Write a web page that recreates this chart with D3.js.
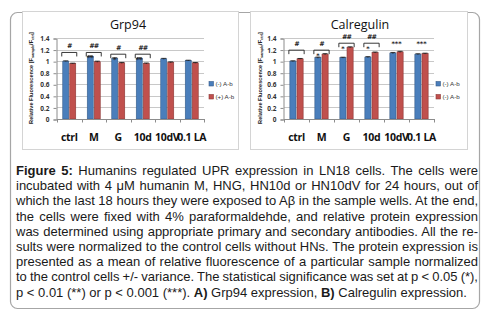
<!DOCTYPE html>
<html>
<head>
<meta charset="utf-8">
<script src="https://cdn.jsdelivr.net/npm/d3@7"></script>
<style>
  body { margin: 0; background: #fff; }
  svg { display: block; }
</style>
</head>
<body>
<script>
// values
const categories = ["ctrl", "M", "G", "10d", "10dV", "0.1 LA"];
const yTicks = [0, 0.2, 0.4, 0.6, 0.8, 1, 1.2, 1.4];
const seriesNames = ["minus", "plus"];

const grpMinus = [1.00, 1.08, 1.05, 1.05, 1.04, 1.01];
const grpPlus  = [0.96, 0.99, 0.97, 0.96, 0.98, 0.97];
const grpErr   = [0.005, 0.01, 0.008, 0.008, 0.008, 0.006];
const grpHash  = ["#", "##", "#", "##", "", ""];
const grpStars = ["", "**", "*", "**", "", ""];
const grpLegend = ["(-) A-b", "(+) A-b"];

const calMinus = [1.00, 1.06, 1.06, 1.07, 1.14, 1.12];
const calPlus  = [1.04, 1.12, 1.24, 1.15, 1.16, 1.13];
const calErr   = [0.006, 0.01, 0.008, 0.008, 0.01, 0.008];
const calHash  = ["#", "#", "##", "##", "", ""];
const calStars = ["", "*", "*", "*", "***", "***"];
const calLegend = ["(-) A-b", "(-) A-b"];

const caption = [
  [["Figure 5:", true], [" Humanins regulated UPR expression in LN18 cells. The cells were", false]],
  [["incubated with 4 μM humanin M, HNG, HN10d or HN10dV for 24 hours, out of", false]],
  [["which the last 18 hours they were exposed to Aβ in the sample wells. At the end,", false]],
  [["the cells were fixed with 4% paraformaldehde, and relative protein expression", false]],
  [["was determined using appropriate primary and secondary antibodies. All the re-", false]],
  [["sults were normalized to the control cells without HNs. The protein expression is", false]],
  [["presented as a mean of relative fluorescence of a particular sample normalized", false]],
  [["to the control cells +/- variance. The statistical significance was set at p < 0.05 (*),", false]],
  [["p < 0.01 (**) or p < 0.001 (***). ", false], ["A)", true], [" Grp94 expression, ", false], ["B)", true], [" Calregulin expression.", false]]
];

const width = 492;
const height = 320;
const blue = "#4a7ebb", blueEdge = "#385d8a";
const red = "#c0504d", redEdge = "#8c3836";

const svg = d3.select("body").append("svg")
  .attr("width", width)
  .attr("height", height);

// outer box and chart panels
svg.append("rect")
  .attr("x", 10.5).attr("y", 12.5).attr("width", 469).attr("height", 296).attr("rx", 7)
  .attr("fill", "#fff").attr("stroke", "#a6a6a6").attr("stroke-width", 1.2);

svg.append("rect")
  .attr("x", 22.5).attr("y", 11.5).attr("width", 216).attr("height", 138)
  .attr("fill", "#fff").attr("stroke", "#d4d4d4");
svg.append("rect")
  .attr("x", 250.5).attr("y", 11.5).attr("width", 217).attr("height", 138)
  .attr("fill", "#fff").attr("stroke", "#d4d4d4");

function drawChart(opt) {
  const g = svg.append("g");
  const minus = opt.minus, plus = opt.plus;

  const x = d3.scaleBand()
    .domain(categories)
    .range([opt.left, opt.right]);

  const xs = d3.scaleBand()
    .domain(seriesNames)
    .range([0, x.bandwidth()])
    .paddingOuter(0.75);

  const y = d3.scaleLinear()
    .domain([0, 1.4])
    .range([119, 38]);

  // grid
  g.selectAll(".grid")
    .data(yTicks.filter(d => d > 0))
    .enter().append("line")
    .attr("x1", opt.left).attr("x2", opt.right)
    .attr("y1", d => Math.round(y(d)) + 0.5).attr("y2", d => Math.round(y(d)) + 0.5)
    .attr("stroke", "#c8c8c8").attr("stroke-width", 1);

  // y axis
  const ya = g.append("g")
    .attr("transform", `translate(${opt.left - 0.5},0.5)`)
    .call(d3.axisLeft(y).tickValues(yTicks).tickFormat(d3.format("~g")).tickSize(3).tickPadding(4));
  ya.select(".domain").attr("stroke", "#8c8c8c");
  ya.selectAll(".tick line").attr("stroke", "#8c8c8c");
  ya.selectAll("text")
    .attr("font-family", "Open Sans, sans-serif").attr("font-size", 6.5).attr("font-weight", "bold").attr("fill", "#333");

  // bars
  const rows = categories.map((c, i) => ({ cat: c, i: i, vals: [minus[i], plus[i]] }));
  const grp = g.selectAll(".pair")
    .data(rows)
    .enter().append("g")
    .attr("transform", d => `translate(${x(d.cat)},0)`);

  grp.selectAll("rect")
    .data(d => seriesNames.map((s, k) => ({ s: s, v: d.vals[k], e: opt.err[d.i] })))
    .enter().append("rect")
    .attr("x", d => xs(d.s) + 0.5)
    .attr("y", d => y(d.v))
    .attr("width", xs.bandwidth() - 1)
    .attr("height", d => y(0) - y(d.v))
    .attr("fill", d => d.s === "minus" ? blue : red)
    .attr("stroke", d => d.s === "minus" ? blueEdge : redEdge)
    .attr("stroke-width", 0.6);

  // small error bars
  grp.selectAll(".err")
    .data(d => seriesNames.map((s, k) => ({ s: s, v: d.vals[k], e: opt.err[d.i] })))
    .enter().append("path")
    .attr("d", d => {
      const cx = xs(d.s) + xs.bandwidth() / 2;
      const top = y(d.v + d.e), bot = y(d.v - d.e);
      return `M${cx},${bot}V${top}M${cx - 2.5},${top}H${cx + 2.5}`;
    })
    .attr("fill", "none").attr("stroke", "#111").attr("stroke-width", 0.8);

  // x axis baseline and ticks at band edges
  g.append("line")
    .attr("x1", opt.left).attr("x2", opt.right)
    .attr("y1", y(0) + 0.5).attr("y2", y(0) + 0.5)
    .attr("stroke", "#8c8c8c");
  g.selectAll(".xt")
    .data(categories.map(c => x(c)).concat([opt.right]))
    .enter().append("line")
    .attr("x1", d => Math.round(d) + 0.5).attr("x2", d => Math.round(d) + 0.5)
    .attr("y1", y(0)).attr("y2", y(0) + 3.5)
    .attr("stroke", "#8c8c8c");

  g.selectAll(".xl")
    .data(categories)
    .enter().append("text")
    .attr("x", d => x(d) + x.bandwidth() / 2)
    .attr("y", 141)
    .attr("text-anchor", "middle")
    .attr("font-family", "Open Sans, sans-serif")
    .attr("font-size", 10.5).attr("font-weight", "bold").attr("fill", "#111")
    .attr("letter-spacing", -0.3)
    .text(d => d);

  // significance marks: bracket level from the taller pair of each neighbour group
  rows.forEach(d => {
    const j = d.i % 2 === 0 ? d.i + 1 : d.i - 1;
    const level = Math.max(minus[d.i], plus[d.i], minus[j], plus[j]) + 0.07;
    const yl = y(level);
    const bx0 = x(d.cat) + xs("minus") - 0.5;
    const bx1 = x(d.cat) + xs("plus") + xs.bandwidth() + 0.5;
    const star = opt.stars[d.i], hash = opt.hash[d.i];
    if (hash) {
      g.append("path")
        .attr("d", `M${bx0},${yl + 4}V${yl}H${bx1}V${yl + 4}`)
        .attr("fill", "none").attr("stroke", "#222").attr("stroke-width", 0.9);
      g.append("text")
        .attr("x", (bx0 + bx1) / 2).attr("y", yl - 4)
        .attr("text-anchor", "middle")
        .attr("font-family", "DejaVu Sans, sans-serif").attr("font-size", 6.5)
        .attr("font-style", "italic").attr("font-weight", "bold").attr("fill", "#222")
        .text(hash);
      if (star) {
        g.append("text")
          .attr("x", x(d.cat) + xs("minus") + xs.bandwidth() / 2).attr("y", yl + 7.5)
          .attr("text-anchor", "middle")
          .attr("font-family", "DejaVu Sans, sans-serif").attr("font-size", 6.5)
          .attr("font-weight", "bold").attr("fill", "#222")
          .text(star);
      }
    } else if (star) {
      g.append("text")
        .attr("x", x(d.cat) + x.bandwidth() / 2).attr("y", y(level + 0.07) + 2)
        .attr("text-anchor", "middle")
        .attr("font-family", "DejaVu Sans, sans-serif").attr("font-size", 6.5)
        .attr("font-weight", "bold").attr("fill", "#222")
        .text(star);
    }
  });

  // title
  g.append("text")
    .attr("x", opt.titleX).attr("y", 29)
    .attr("text-anchor", "middle")
    .attr("font-family", "Open Sans, sans-serif").attr("font-size", 12.5).attr("fill", "#111")
    .text(opt.title);

  // y label
  const yl = g.append("text")
    .attr("transform", `translate(${opt.labelX},78) rotate(-90)`)
    .attr("text-anchor", "middle")
    .attr("font-family", "Liberation Sans, Arial, sans-serif").attr("font-size", 5.6)
    .attr("font-weight", "bold").attr("fill", "#222");
  yl.append("tspan").text("Relative Fluorescence [F");
  yl.append("tspan").attr("font-size", 3.8).attr("dy", 1.2).text("sample");
  yl.append("tspan").attr("dy", -1.2).text("/F");
  yl.append("tspan").attr("font-size", 3.8).attr("dy", 1.2).text("ctrl");
  yl.append("tspan").attr("dy", -1.2).text("]");

  // legend
  const lg = g.selectAll(".lg")
    .data(opt.legend)
    .enter().append("g")
    .attr("transform", (d, k) => `translate(${opt.legendX},${84 + k * 13})`);
  lg.append("rect")
    .attr("x", 0).attr("y", -2.5).attr("width", 4.5).attr("height", 4.5)
    .attr("fill", (d, k) => k === 0 ? blue : red)
    .attr("stroke", (d, k) => k === 0 ? blueEdge : redEdge).attr("stroke-width", 0.6);
  lg.append("text")
    .attr("x", 6.5).attr("y", 2)
    .attr("font-family", "Liberation Sans, Arial, sans-serif").attr("font-size", 6.2).attr("fill", "#333")
    .text(d => d);
}

drawChart({
  left: 57, right: 204, title: "Grp94", titleX: 128, labelX: 33, legendX: 209,
  minus: grpMinus, plus: grpPlus, err: grpErr, hash: grpHash, stars: grpStars, legend: grpLegend
});

drawChart({
  left: 284, right: 434, title: "Calregulin", titleX: 360, labelX: 262, legendX: 436,
  minus: calMinus, plus: calPlus, err: calErr, hash: calHash, stars: calStars, legend: calLegend
});

// caption, justified line by line
const capLeft = 16, capRight = 478, lineH = 15.2, firstBase = 175;
caption.forEach((parts, i) => {
  const t = svg.append("text")
    .attr("x", capLeft).attr("y", firstBase + i * lineH)
    .attr("font-family", "Liberation Sans, Arial, sans-serif")
    .attr("font-size", 13).attr("fill", "#1a1a1a");
  parts.forEach(p => {
    t.append("tspan").attr("font-weight", p[1] ? "bold" : null).text(p[0]);
  });
  if (i < caption.length - 1) {
    const natural = t.node().getComputedTextLength();
    const spaces = parts.map(p => p[0]).join("").split(" ").length - 1;
    t.attr("word-spacing", (capRight - capLeft - natural) / spaces);
  }
});
</script>
</body>
</html>
